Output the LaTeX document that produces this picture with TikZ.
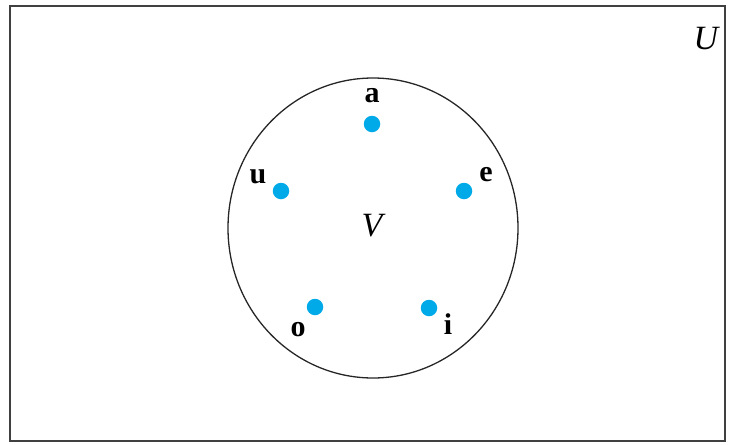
\documentclass[tikz,border=0pt]{standalone}
\usepackage{fontspec}
\setmainfont{Liberation Serif}
\definecolor{dotcyan}{RGB}{0,170,232}
\tikzset{
  elem/.style={circle,fill=dotcyan,inner sep=0pt,minimum size=16.5pt},
  lbl/.style={font=\fontsize{30}{34}\selectfont\bfseries,inner sep=0pt},
  setname/.style={font=\fontsize{34}{38}\selectfont\itshape,inner sep=0pt}
}
\begin{document}
\begin{tikzpicture}[x=1pt,y=-1pt]
\useasboundingbox (0,0) rectangle (732,445);
\draw[line width=1.6pt,black!75] (10,6) rectangle (725,441);
\draw[line width=1.3pt,black!85] (373,228) ellipse [x radius=145, y radius=150];
\node[elem] (a) at (372,124) {};
\node[elem] (u) at (281,191) {};
\node[elem] (e) at (464,191) {};
\node[elem] (o) at (315,307) {};
\node[elem] (i) at (429,308) {};
\node[lbl] (la) at (372,96) {a};
\node[lbl] (lu) at (258,177) {u};
\node[lbl] (le) at (486,175) {e};
\node[lbl] (lo) at (298,330) {o};
\node[lbl] (li) at (448,324) {i};
\node[setname] (V) at (372,226) {V};
\node[setname] (U) at (706,39) {U};
\end{tikzpicture}
\end{document}
